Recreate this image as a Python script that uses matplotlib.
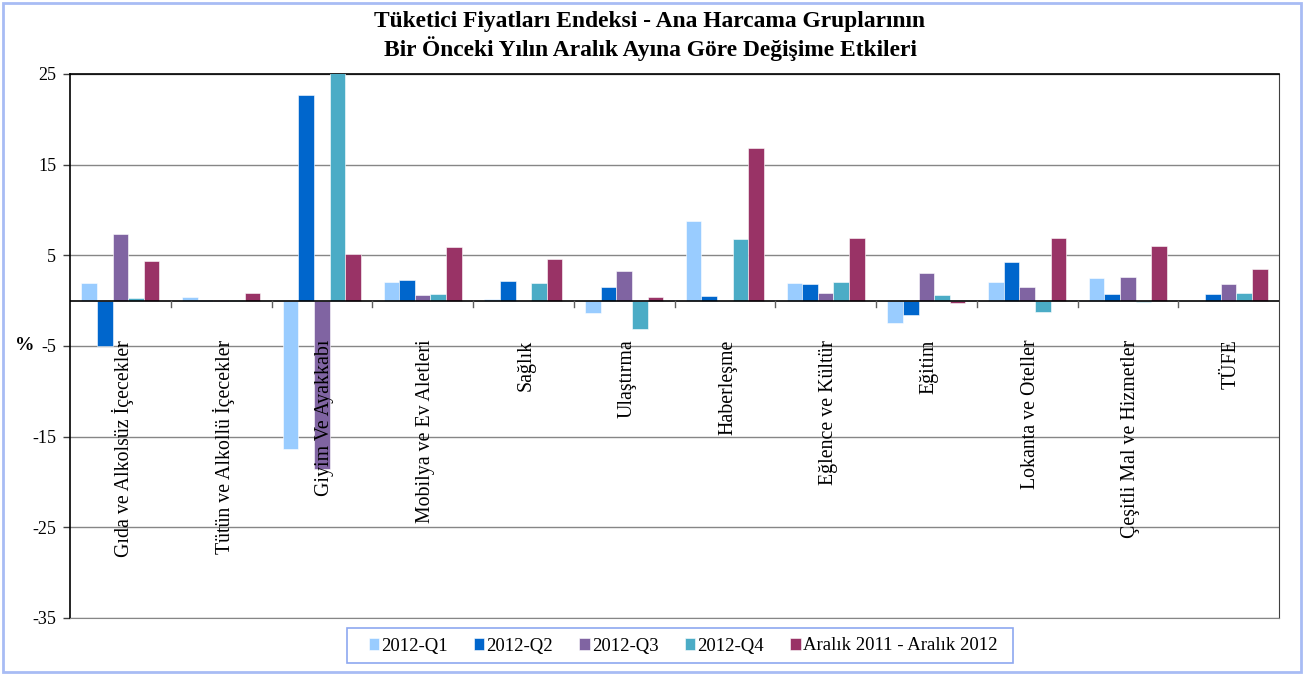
import matplotlib
matplotlib.use("Agg")
import matplotlib.pyplot as plt
import numpy as np
from matplotlib.patches import Rectangle

plt.rcParams['font.family'] = ['Liberation Serif', 'DejaVu Serif']

categories = ["Gıda ve Alkolsüz İçecekler", "Tütün ve Alkollü İçecekler", "Giyim Ve Ayakkabı",
              "Mobilya ve Ev Aletleri", "Sağlık", "Ulaştırma", "Haberleşme", "Eğlence ve Kültür",
              "Eğitim", "Lokanta ve Oteller", "Çeşitli Mal ve Hizmetler", "TÜFE"]
q1 = [2.0, 0.4, -16.4, 2.1, 0.2, -1.4, 8.8, 1.9, -2.5, 2.1, 2.5, 0.0]
q2 = [-5.0, 0.1, 22.7, 2.3, 2.2, 1.5, 0.5, 1.8, -1.6, 4.3, 0.7, 0.7]
q3 = [7.3, 0.05, -18.6, 0.6, 0.0, 3.3, 0.0, 0.8, 3.1, 1.5, 2.6, 1.8]
q4 = [0.3, 0.1, 25.1, 0.7, 1.9, -3.1, 6.8, 2.1, 0.6, -1.2, -0.1, 0.9]
yillik = [4.4, 0.9, 5.1, 5.9, 4.6, 0.4, 16.8, 6.9, -0.3, 6.9, 6.0, 3.5]
series_names = ["2012-Q1", "2012-Q2", "2012-Q3", "2012-Q4", "Aralık 2011 - Aralık 2012"]
colors = ["#99CCFF", "#0066CC", "#8064A2", "#4BACC6", "#993366"]
yticks = [25, 15, 5, -5, -15, -25, -35]

W, H = 1304, 675
fig = plt.figure(figsize=(W/100, H/100), dpi=100)
ax = fig.add_axes([70/W, 1-618/H, (1279-70)/W, (618-74)/H])

x = np.arange(len(categories))
bw = 0.155
data = [q1, q2, q3, q4, yillik]
for k, (vals, c, name) in enumerate(zip(data, colors, series_names)):
    ax.bar(x + (k-2)*bw, vals, width=bw, color=c, label=name,
           edgecolor='white', linewidth=0.4, zorder=3)

ax.set_xlim(-0.5, len(categories)-0.5)
ax.set_ylim(-35, 25)
ax.set_yticks(yticks)
ax.set_yticklabels([str(v) for v in yticks], fontsize=13)
ax.tick_params(axis='y', direction='out', length=5, width=1, color='#404040', pad=5)
for v in yticks:
    ax.axhline(v, color='#868686', linewidth=1.0, zorder=1)
ax.axhline(0, color='black', linewidth=1.2, zorder=4)
ax.set_xticks([])
for b in np.arange(0.5, len(categories)-0.5, 1.0):
    ax.plot([b, b], [0, -0.7], color='#606060', linewidth=1.0, zorder=4, clip_on=False)

for s in ['left', 'top']:
    ax.spines[s].set_color('black')
    ax.spines[s].set_linewidth(1.2)
ax.spines['right'].set_color('#404040')
ax.spines['bottom'].set_color('#868686')

for i, name in enumerate(categories):
    ax.annotate(name, xy=(i, 0), xytext=(3, -39), textcoords='offset pixels',
                rotation=90, ha='center', va='top', fontsize=14.3, zorder=5)

fig.text(25/W, 1-346/H, "%", fontsize=14, fontweight='bold', ha='center', va='center')

fig.text(650/W, 1-21/H, "Tüketici Fiyatları Endeksi - Ana Harcama Gruplarının",
         fontsize=16.9, fontweight='bold', ha='center', va='center')
fig.text(650/W, 1-49/H, "Bir Önceki Yılın Aralık Ayına Göre Değişime Etkileri",
         fontsize=16.9, fontweight='bold', ha='center', va='center')

leg = fig.legend(loc='center', bbox_to_anchor=(683/W, 1-646/H), ncol=5, fontsize=13.5,
                 frameon=False, handlelength=0.55, handleheight=0.55,
                 handletextpad=0.12, columnspacing=1.4, borderpad=0.3)

fig.patches.append(Rectangle((347/W, 1-663/H), (1013-347)/W, 35/H, transform=fig.transFigure,
                             fill=False, edgecolor='#8EA8F0', linewidth=1.2))
fig.patches.append(Rectangle((3/W, 3/H), 1-6/W, 1-6/H, transform=fig.transFigure,
                             fill=False, edgecolor='#A8BCF4', linewidth=2))

fig.savefig("out.png", dpi=100)
